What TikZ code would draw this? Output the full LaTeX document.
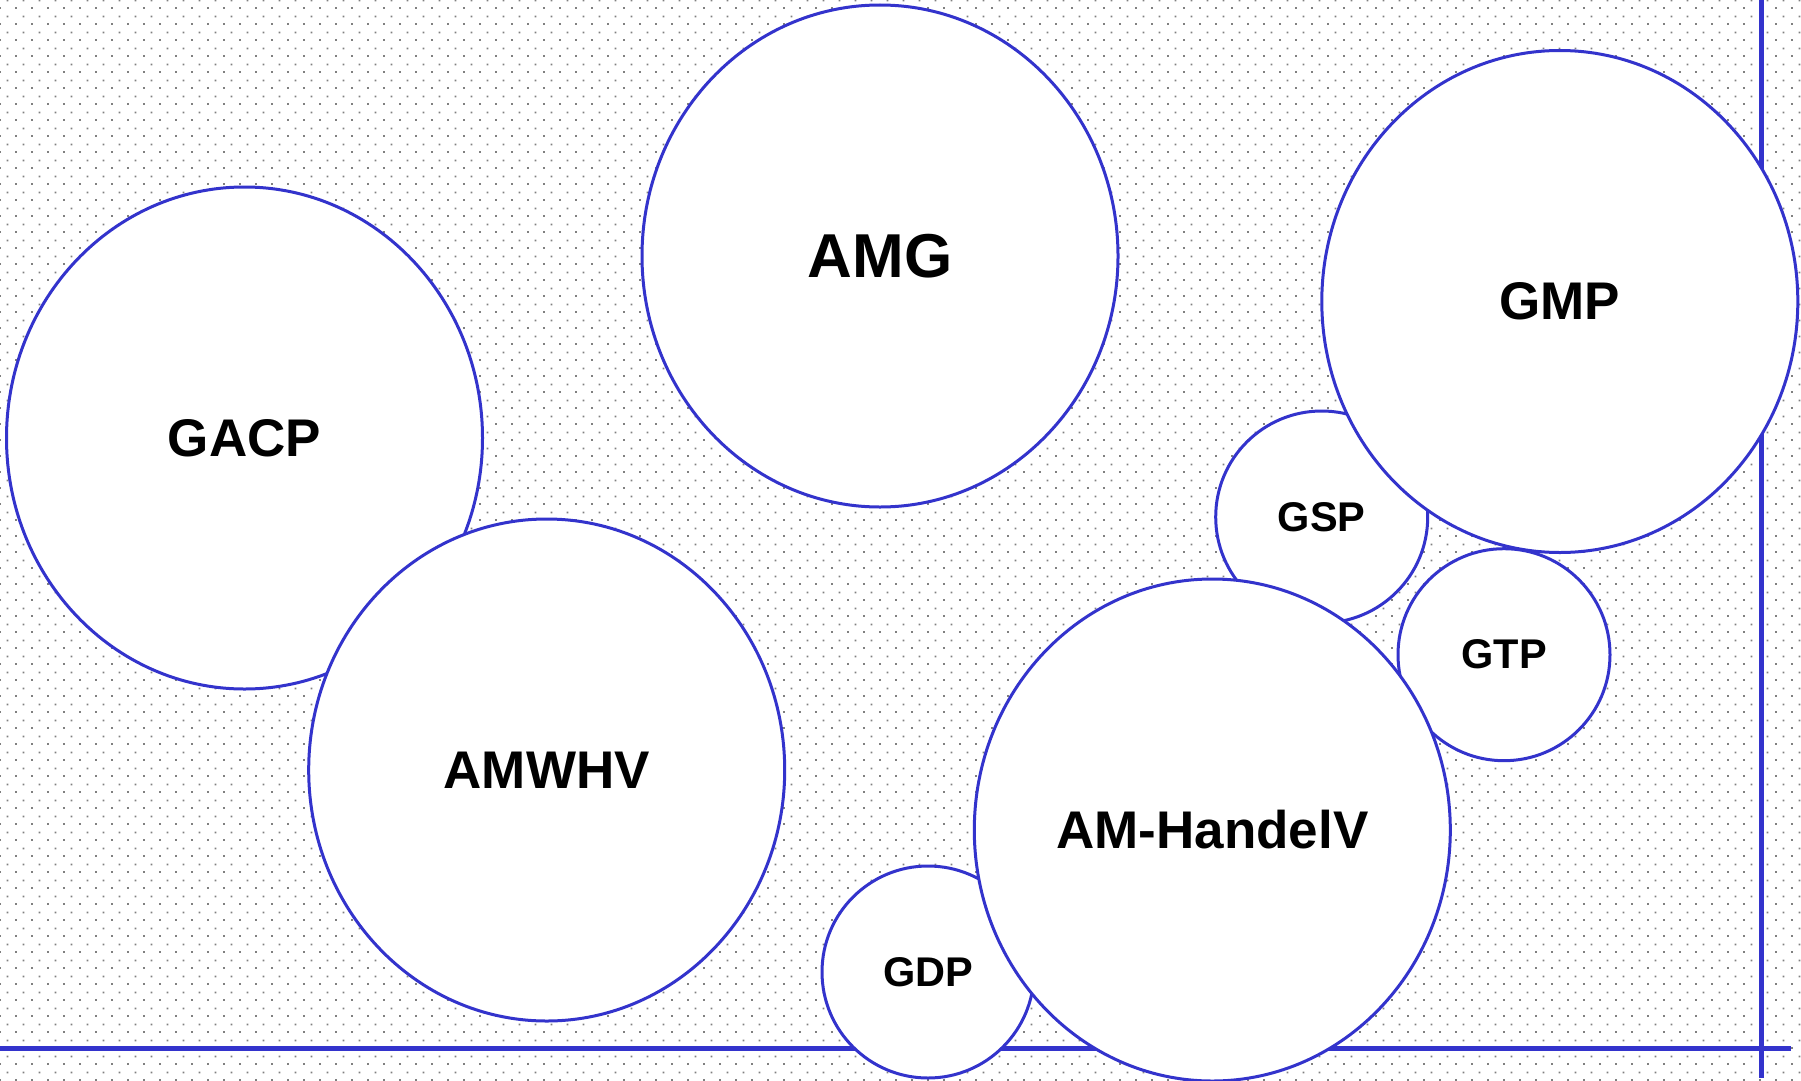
\documentclass[tikz,border=0pt]{standalone}
\usepackage{fontspec}
\setmainfont{Liberation Sans}
\usetikzlibrary{patterns,shapes.geometric}
\definecolor{bub}{RGB}{51,51,204}
\definecolor{dotgray}{RGB}{128,128,128}
\pgfdeclarepatterninherentlycolored{bgdots}{\pgfpointorigin}{\pgfpoint{16pt}{16pt}}{\pgfpoint{16pt}{16pt}}{%
  \pgfsetfillcolor{dotgray}%
  \pgfpathrectangle{\pgfpoint{0pt}{0pt}}{\pgfpoint{2pt}{2pt}}%
  \pgfpathrectangle{\pgfpoint{8pt}{8pt}}{\pgfpoint{2pt}{2pt}}%
  \pgfusepath{fill}%
}
\begin{document}
\begin{tikzpicture}[x=1pt,y=-1pt,
  bubble/.style={ellipse, draw=bub, line width=3pt, fill=white, inner sep=0pt},
  bigb/.style={bubble, minimum width=476pt, minimum height=502pt, font=\fontsize{53}{60}\selectfont\bfseries},
  hugeb/.style={bigb, font=\fontsize{62}{70}\selectfont\bfseries},
  smallb/.style={bubble, minimum width=212pt, minimum height=212pt, font=\fontsize{41.5}{48}\selectfont\bfseries},
  axisline/.style={draw=bub, line width=5pt}]
\useasboundingbox (0,0) rectangle (1801,1081);
\fill[white] (0,0) rectangle (1801,1081);
\fill[pattern=bgdots] (0,0) rectangle (1801,1081);
\coordinate (hl) at (0,1048);
\coordinate (hr) at (1791,1048);
\coordinate (vt) at (1761,0);
\coordinate (vb) at (1761,1078);
\draw[axisline] (hl) -- (hr);
\draw[axisline] (vt) -- (vb);
\node[bigb] (gacp) at (244.5,438) {GACP};
\node[bigb] (amwhv) at (546.7,770) {AMWHV};
\node[hugeb] (amg) at (880,256) {AMG};
\node[smallb] (gsp) at (1321.7,517) {GSP};
\node[bigb] (gmp) at (1559.8,301.5) {GMP};
\node[smallb] (gtp) at (1504,654.7) {GTP};
\node[smallb] (gdp) at (928,972) {GDP};
\node[bigb] (amh) at (1212.3,830) {AM-HandelV};
\end{tikzpicture}
\end{document}
